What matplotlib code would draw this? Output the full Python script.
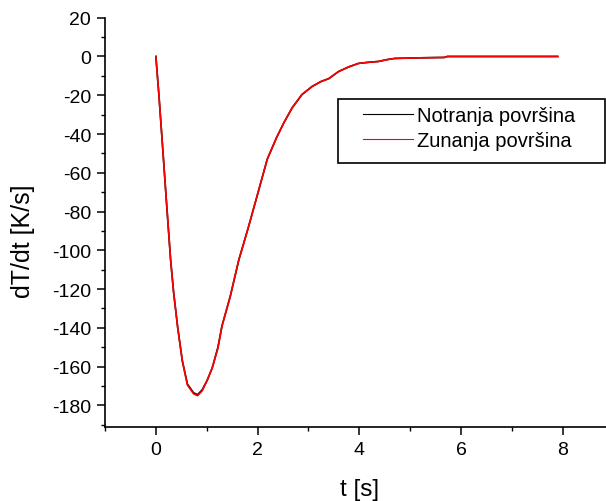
import numpy as np
import matplotlib
matplotlib.use("Agg")
from matplotlib import pyplot as plt
from matplotlib.ticker import MultipleLocator
from matplotlib.patches import Rectangle

plt.rcParams['font.family'] = ['Liberation Sans', 'DejaVu Sans']
plt.rcParams['axes.unicode_minus'] = False

# time [s]
t = [0.0, 0.06, 0.12, 0.2, 0.29, 0.35, 0.43, 0.52, 0.62, 0.74, 0.82, 0.91,
     1.01, 1.11, 1.22, 1.30, 1.46, 1.63, 1.82, 2.0, 2.19, 2.37, 2.52, 2.68,
     2.87, 3.07, 3.24, 3.40, 3.59, 3.78, 3.98, 4.18, 4.37, 4.55, 4.70, 5.2,
     5.67, 5.73, 6.5, 7.2, 7.9]

# inner surface
notranja = [0.0, -20, -42, -72, -105, -122, -140, -157, -169, -173.5, -174.5, -172,
            -167, -160.5, -150, -139, -124, -105, -88, -71, -53, -42, -34, -26.5,
            -19.7, -15.5, -13, -11.4, -7.8, -5.5, -3.6, -3.0, -2.6, -1.6, -1.0, -0.7,
            -0.5, 0.0, 0.0, 0.0, 0.0]

# outer surface
zunanja = [0.0, -20, -42, -72, -105, -122, -140, -157, -169.5, -174, -175, -172.5,
           -167, -160.5, -150.5, -139, -124, -105, -88, -71, -53, -42, -34, -26.4,
           -19.7, -15.5, -13, -11.4, -7.8, -5.5, -3.6, -3.0, -2.6, -1.6, -1.0, -0.7,
           -0.5, 0.0, 0.0, 0.0, 0.0]

W, H = 606, 502
fig = plt.figure(figsize=(W / 100, H / 100), dpi=100)
ax = fig.add_axes([105 / W, 1 - 427.7 / H, 508.7 / W, 409 / H])

ax.plot(t, notranja, color='black', lw=1.2, label='Notranja površina')
ax.plot(t, zunanja, color='red', lw=1.2, label='Zunanja površina')

ax.set_xlim(-1, 9)
ax.set_ylim(-191, 20)
ax.xaxis.set_major_locator(MultipleLocator(2))
ax.xaxis.set_minor_locator(MultipleLocator(1))
ax.yaxis.set_major_locator(MultipleLocator(20))
ax.yaxis.set_minor_locator(MultipleLocator(10))

for s in ['top', 'right']:
    ax.spines[s].set_visible(False)
for s in ['left', 'bottom']:
    ax.spines[s].set_linewidth(1.2)
ax.tick_params(which='major', direction='out', length=6, width=1.1,
               labelsize=14, pad=4)
ax.tick_params(which='minor', direction='out', length=3, width=1.0)

ax.set_xlabel('t [s]', fontsize=17.5)
ax.set_ylabel('dT/dt [K/s]', fontsize=18)
ax.xaxis.set_label_coords(0.5, -0.125)
ax.yaxis.set_label_coords((35 - 105) / 508.7, 0.456)

# legend frame drawn separately so it can be wider than the entries
fig.patches.append(Rectangle((338 / W, 1 - 164 / H), 267 / W, 64 / H,
                             transform=fig.transFigure, fill=False,
                             edgecolor='black', linewidth=1.2))
leg = fig.legend(*ax.get_legend_handles_labels(), loc='upper left',
                 bbox_to_anchor=(363 / W, 1 - 107 / H), fontsize=14.5,
                 frameon=False, handlelength=2.5, handletextpad=0.2,
                 borderpad=0, labelspacing=0.3, borderaxespad=0)
for line in leg.get_lines():
    line.set_linewidth(0.8)

fig.savefig('out.png', dpi=100)
